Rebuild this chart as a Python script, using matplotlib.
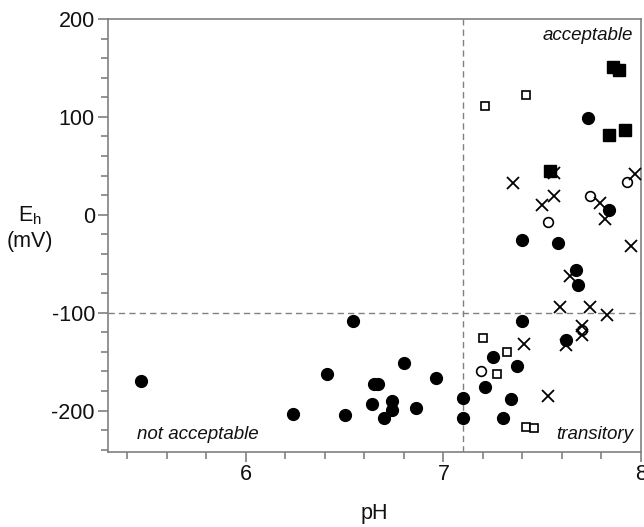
import numpy as np
import matplotlib.pyplot as plt
from matplotlib.ticker import MultipleLocator

plt.rcParams['font.family'] = ['Liberation Sans', 'DejaVu Sans']
plt.rcParams['axes.unicode_minus'] = False

# pH / Eh (mV) readings, grouped by marker type
circ_ph = [5.47, 6.24, 6.41, 6.50, 6.54, 6.64, 6.65, 6.67, 6.70, 6.74, 6.74, 6.80, 6.86,
           6.96, 7.10, 7.10, 7.21, 7.25, 7.30, 7.34, 7.37, 7.40, 7.40, 7.58, 7.62, 7.67,
           7.68, 7.73, 7.84]
circ_eh = [-170, -204, -163, -205, -109, -193, -173, -173, -208, -190, -199, -151, -197,
           -167, -187, -208, -176, -145, -208, -188, -154, -109, -26, -29, -128, -56,
           -72, 99, 5]

sq_ph = [7.54, 7.84, 7.86, 7.89, 7.92]
sq_eh = [45, 81, 151, 148, 87]

osq_ph = [7.20, 7.21, 7.27, 7.32, 7.42, 7.42, 7.46]
osq_eh = [-126, 111, -163, -140, 122, -217, -218]

ocirc_ph = [7.19, 7.53, 7.70, 7.74, 7.93]
ocirc_eh = [-160, -7, -118, 19, 34]

x_ph = [7.35, 7.41, 7.50, 7.53, 7.56, 7.56, 7.59, 7.62, 7.64, 7.70, 7.70, 7.74, 7.79,
        7.82, 7.83, 7.95, 7.97]
x_eh = [32, -132, 10, -185, 43, 19, -94, -133, -63, -114, -123, -94, 12,
        -4, -102, -32, 42]

ph_limit = 7.1
eh_limit = -100

grey = '#808080'
ink = '#111111'

fig = plt.figure(figsize=(6.44, 5.27), dpi=100)
ax = fig.add_axes([107.5 / 644, 1 - 451.7 / 527, (641 - 107.5) / 644, (451.7 - 19) / 527])

ax.axhline(eh_limit, color=grey, lw=1, ls=(0, (4.5, 3)), zorder=1)
ax.axvline(ph_limit, color=grey, lw=1, ls=(0, (4.5, 3)), zorder=1)

ax.plot(circ_ph, circ_eh, 'o', color='black', ms=8.5, ls='none', zorder=3)
ax.plot(sq_ph, sq_eh, 's', color='black', ms=8, ls='none', zorder=3)
ax.plot(osq_ph, osq_eh, 's', mfc='white', mec='black', mew=1.2, ms=6, ls='none', zorder=3)
ax.plot(ocirc_ph, ocirc_eh, 'o', mfc='white', mec='black', mew=1.2, ms=7, ls='none', zorder=3)
ax.plot(x_ph, x_eh, 'x', color='black', mew=1.3, ms=8, ls='none', zorder=4)

ax.set_xlim(5.3, 8.0)
ax.set_ylim(-242, 200)
ax.xaxis.set_major_locator(MultipleLocator(1))
ax.xaxis.set_minor_locator(MultipleLocator(0.2))
ax.yaxis.set_major_locator(MultipleLocator(100))
ax.yaxis.set_minor_locator(MultipleLocator(20))

for s in ax.spines.values():
    s.set_color(grey)
    s.set_linewidth(1.2)
ax.tick_params(which='major', length=7, width=1.2, color=grey, labelsize=15.5,
               labelcolor=ink, pad=2)
ax.tick_params(which='minor', length=5, width=1.2, color=grey)

ax.set_xlabel('pH', fontsize=15.5, color=ink, labelpad=13)
fig.text(30 / 644, 1 - 228 / 527, 'E$_\\mathregular{h}$\n(mV)', fontsize=15.5,
         color=ink, ha='center', va='center', linespacing=1.25)

ax.text(7.96, 192, 'acceptable', style='italic', fontsize=13.5, ha='right', va='top',
        color=ink)
ax.text(5.45, -233, 'not acceptable', style='italic', fontsize=13.5, ha='left',
        va='bottom', color=ink)
ax.text(7.96, -233, 'transitory', style='italic', fontsize=13.5, ha='right',
        va='bottom', color=ink)

fig.savefig('out.png', dpi=100)
